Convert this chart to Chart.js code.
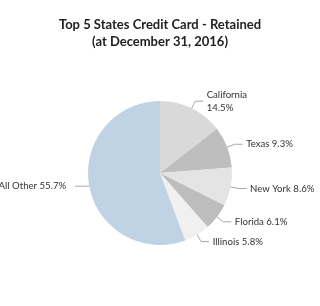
<!DOCTYPE html>
<html>
<head>
<meta charset="utf-8">
<script src="https://cdn.jsdelivr.net/npm/chart.js@4"></script>
<style>
  html, body { margin: 0; padding: 0; background: #fff; }
  #wrap { width: 320px; height: 306px; }
</style>
</head>
<body>
<div id="wrap"><canvas id="pie" width="320" height="306"></canvas></div>
<script>
const labels = ["California", "Texas", "New York", "Florida", "Illinois", "All Other"];
const shares = [14.5, 9.3, 8.6, 6.1, 5.8, 55.7];
const sliceColors = ["#d9d9d9", "#bebebe", "#e4e4e4", "#bdbdbd", "#f0f0f0", "#c0d3e4"];

const FONT = "Lato, 'Open Sans', sans-serif";

// leader lines + labels drawn from each arc's own geometry
const leaderLabels = {
  id: "leaderLabels",
  afterDatasetsDraw(chart) {
    const ctx = chart.ctx;
    const arcs = chart.getDatasetMeta(0).data;
    ctx.save();
    ctx.font = `9.6px ${FONT}`;
    ctx.textBaseline = "middle";
    arcs.forEach((arc, i) => {
      const mid = (arc.startAngle + arc.endAngle) / 2;
      const r = arc.outerRadius;
      const right = Math.cos(mid) >= 0;
      const out = right ? 8 : 2;
      const run = right ? 8 : 12;
      const x0 = arc.x + Math.cos(mid) * r;
      const y0 = arc.y + Math.sin(mid) * r;
      const x1 = arc.x + Math.cos(mid) * (r + out);
      const y1 = arc.y + Math.sin(mid) * (r + out);
      const x2 = right ? x1 + run : x1 - run;
      ctx.strokeStyle = "#a6a6a6";
      ctx.lineWidth = 1;
      ctx.beginPath();
      ctx.moveTo(x0, y0);
      ctx.lineTo(x1, y1);
      ctx.lineTo(x2, y1);
      ctx.stroke();
      ctx.fillStyle = "#333";
      ctx.textAlign = right ? "left" : "right";
      const tx = right ? x2 + 3.5 : x2 - 9;
      const pct = shares[i].toFixed(1) + "%";
      if (i === 0) {
        ctx.fillText(labels[i], tx, y1 - 6);
        ctx.fillText(pct, tx, y1 + 7);
      } else {
        ctx.fillText(`${labels[i]} ${pct}`, tx, y1);
      }
    });
    ctx.restore();
  },
};

new Chart(document.getElementById("pie"), {
  type: "pie",
  data: {
    labels,
    datasets: [{
      data: shares,
      backgroundColor: sliceColors,
      borderWidth: 0,
    }],
  },
  options: {
    responsive: false,
    animation: false,
    layout: { padding: { top: 0, left: 0, right: 0, bottom: 61 } },
    plugins: {
      legend: { display: false },
      tooltip: { enabled: false },
      title: {
        display: true,
        text: ["Top 5 States Credit Card - Retained", "(at December 31, 2016)"],
        color: "#222",
        font: { family: FONT, size: 13, weight: "bold", lineHeight: 1.3 },
        padding: { top: 16, bottom: 51.2 },
      },
    },
  },
  plugins: [leaderLabels],
});
</script>
</body>
</html>
